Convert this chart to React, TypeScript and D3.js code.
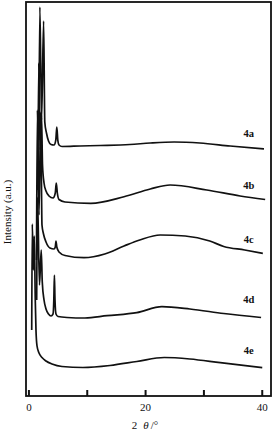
import * as d3 from "d3";

// 2θ (deg) and intensity (a.u., stacked offsets)
const theta4a = [1.69, 1.88, 2.17, 2.52, 2.72, 3.01, 3.36, 3.79, 4.3, 4.61, 4.78, 4.95, 5.16, 5.67, 8.76, 12.2, 17.3, 20.8, 24.9, 29.3, 34.5, 40.3];
const int4a = [256, 389, 276, 375, 274, 263, 255, 251.5, 251, 256, 269, 256, 251, 249.5, 250, 250.5, 251.5, 253, 254, 253, 250, 247];

const theta4b = [1.52, 1.68, 1.93, 2.16, 2.33, 2.59, 2.93, 3.44, 4.13, 4.52, 4.69, 4.87, 5.16, 6.19, 10.6, 16.3, 20.8, 24.2, 30.5, 36.2, 40.5];
const int4b = [206, 333, 246, 281, 231, 213, 205, 200, 198, 203, 213, 203, 196.5, 194, 192.7, 199.3, 207, 211, 206, 200, 196.5];

const theta4c = [1.3, 1.45, 1.73, 2.02, 2.24, 2.5, 2.93, 3.61, 4.3, 4.52, 4.64, 4.78, 5.16, 6.19, 9.44, 13.0, 16.3, 19.0, 22.5, 26.8, 31.0, 33.4, 37.0, 40.1];
const int4c = [136, 286, 181, 284, 171, 162, 154, 148, 147, 149, 155, 149, 144, 140.5, 138.3, 142, 150, 156, 161, 160, 155, 149.5, 146, 142.7];

const theta4d = [1.33, 1.47, 1.81, 2.11, 2.29, 2.59, 2.93, 3.36, 3.79, 4.13, 4.27, 4.37, 4.47, 4.64, 4.99, 6.53, 9.6, 13.4, 18.5, 22.8, 27.6, 33.4, 39.8];
const int4d = [96, 199, 111, 146, 114, 96, 87, 82, 80, 82, 96, 121, 96, 82, 79.5, 78.5, 78, 80.3, 83.3, 89.3, 87, 82.5, 78.5];

const theta4e = [0.48, 0.58, 0.75, 0.92, 1.09, 1.21, 1.39, 1.73, 2.24, 2.93, 3.96, 5.67, 9.27, 13.9, 18.5, 23.2, 27.6, 32.8, 40.0];
const int4e = [66, 172, 126, 160, 96, 66, 50, 43, 38.5, 35, 32, 29.5, 28.5, 30.5, 34.5, 38.5, 37, 33.3, 28.3];

const seriesNames = ["4a", "4b", "4c", "4d", "4e"];
const xTicks = [0, 10, 20, 30, 40];
const xTickLabels = ["0", "", "20", "", "40"];

const W = 274;
const H = 432;
const frame = { left: 26, right: 271, top: 2, bottom: 396 };
const labelLift = [12, 10.5, 10, 14.5, 14];

export default function App() {
  const series = [
    [theta4a, int4a],
    [theta4b, int4b],
    [theta4c, int4c],
    [theta4d, int4d],
    [theta4e, int4e],
  ].map(([t, v], i) => ({
    name: seriesNames[i],
    points: t.map((x, j) => [x, v[j]] as [number, number]),
  }));

  const x = d3.scaleLinear().domain([-0.5, 41.5]).range([frame.left, frame.right]);
  const y = d3.scaleLinear().domain([0, 394]).range([frame.bottom, frame.top]);

  const line = d3
    .line<[number, number]>()
    .x((d) => x(d[0]))
    .y((d) => y(d[1]))
    .curve(d3.curveMonotoneX);

  const font = "'Liberation Serif', 'Times New Roman', serif";

  return (
    <svg width={W} height={H} style={{ display: "block" }} fontFamily={font}>
      <style>{`body{margin:0}`}</style>
      <rect width={W} height={H} fill="#fff" />

      {/* curves */}
      {series.map((s) => (
        <path key={s.name} d={line(s.points) ?? ""} fill="none" stroke="#111" strokeWidth={1.7} strokeLinejoin="round" />
      ))}

      {/* series labels */}
      {series.map((s, i) => {
        const last = s.points[s.points.length - 1];
        return (
          <text
            key={s.name}
            x={x(37.7)}
            y={y(last[1] + labelLift[i])}
            textAnchor="middle"
            fontSize={10.5}
            fontWeight={700}
            fill="#111"
          >
            {s.name}
          </text>
        );
      })}

      {/* frame */}
      <rect
        x={frame.left}
        y={frame.top}
        width={frame.right - frame.left}
        height={frame.bottom - frame.top}
        fill="none"
        stroke="#111"
        strokeWidth={1.8}
      />

      {/* x ticks, pointing inward */}
      {xTicks.map((t, i) => (
        <g key={t}>
          <line x1={x(t)} x2={x(t)} y1={frame.bottom} y2={frame.bottom - 6} stroke="#111" strokeWidth={2} />
          {xTickLabels[i] && (
            <text x={x(t)} y={411} textAnchor="middle" fontSize={11} fill="#111">
              {xTickLabels[i]}
            </text>
          )}
        </g>
      ))}

      {/* axis titles */}
      <text x={145} y={429} textAnchor="middle" fontSize={11} fill="#111">
        2<tspan dx={6} fontStyle="italic">θ</tspan>
        <tspan dx={2}>/°</tspan>
      </text>
      <text
        transform={`translate(11, 212) rotate(-90)`}
        textAnchor="middle"
        fontSize={11}
        fill="#111"
      >
        Intensity (a.u.)
      </text>
    </svg>
  );
}
